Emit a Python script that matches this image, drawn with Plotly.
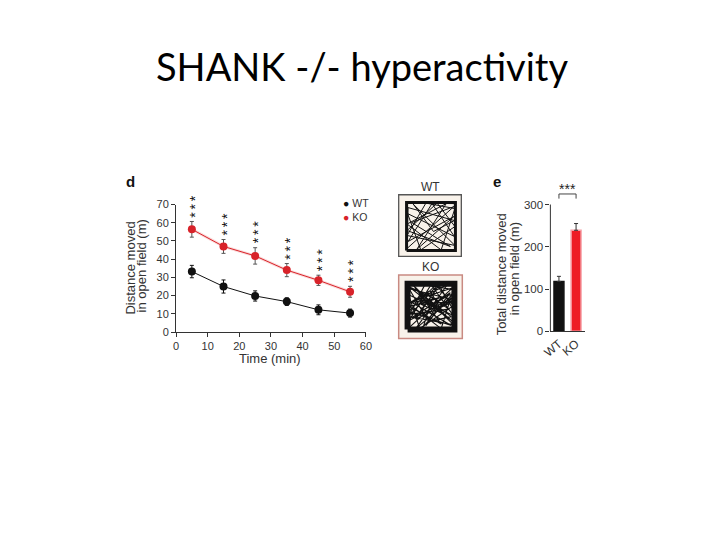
import plotly.graph_objects as go

# ---------------- data ----------------
time_min = [5, 15, 25, 35, 45, 55]
wt_mean = [33.2, 25.0, 19.8, 16.7, 12.2, 10.4]
wt_sem = [3.4, 3.6, 2.8, 2.1, 2.7, 2.2]
ko_mean = [56.4, 47.0, 41.8, 34.0, 28.4, 22.1]
ko_sem = [4.3, 3.8, 4.5, 3.6, 2.8, 3.0]
sig_marks = ["***", "***", "***", "***", "***", "***"]

groups = ["WT", "KO"]
total_mean = [118, 239]
total_sem = [12, 16]
total_sig = "***"

# hand-drawn representative tracks (unit square)
wt_track_x = [0.03, 0.97, 0.96, 0.04, 0.03, 0.95, 0.12, 0.88, 0.03, 0.62, 0.97, 0.30, 0.04,
              0.96, 0.52, 0.05, 0.95, 0.22, 0.80, 0.03, 0.70, 0.97, 0.40, 0.03, 0.97, 0.15,
              0.55, 0.96, 0.05]
wt_track_y = [0.04, 0.03, 0.96, 0.97, 0.06, 0.90, 0.58, 0.10, 0.42, 0.97, 0.50, 0.03, 0.76,
              0.30, 0.96, 0.20, 0.70, 0.04, 0.96, 0.55, 0.03, 0.86, 0.97, 0.32, 0.12, 0.95,
              0.40, 0.62, 0.88]
ko_track_x = [0.05, 0.95, 0.94, 0.06, 0.07, 0.93, 0.10, 0.90, 0.06, 0.60, 0.94, 0.28, 0.06,
              0.94, 0.50, 0.07, 0.93, 0.20, 0.82, 0.06, 0.70, 0.94, 0.38, 0.06, 0.94, 0.15,
              0.55, 0.94, 0.07, 0.45, 0.90, 0.25, 0.70, 0.08, 0.92, 0.35, 0.60, 0.10, 0.85,
              0.50, 0.20, 0.93, 0.30, 0.75, 0.07, 0.65, 0.40, 0.88, 0.12, 0.58, 0.33, 0.93,
              0.18, 0.72, 0.48, 0.08, 0.80, 0.27, 0.66, 0.93]
ko_track_y = [0.06, 0.05, 0.94, 0.95, 0.08, 0.88, 0.60, 0.12, 0.40, 0.94, 0.52, 0.06, 0.74,
              0.32, 0.94, 0.22, 0.68, 0.06, 0.94, 0.56, 0.06, 0.84, 0.94, 0.30, 0.14, 0.93,
              0.42, 0.64, 0.86, 0.20, 0.30, 0.80, 0.15, 0.50, 0.75, 0.10, 0.90, 0.35, 0.45,
              0.70, 0.25, 0.60, 0.55, 0.35, 0.90, 0.62, 0.12, 0.78, 0.28, 0.48, 0.66, 0.20,
              0.86, 0.40, 0.82, 0.58, 0.70, 0.38, 0.93, 0.45]

WT_COLOR = "#111111"
KO_COLOR = "#d8232a"
BAR_KO = "#ee1c25"
FONT = "Liberation Sans, Arial, sans-serif"
TXT = "#333333"

# page offset of the plot div (browser body margin) and figure size
OFF = 8
FW, FH = 704, 524


def px(x):
    return (x - OFF) / FW


def py(y):
    return 1 - (y - OFF) / FH


fig = go.Figure()

# ---------------- panel d: time course ----------------
fig.add_trace(go.Scatter(
    x=time_min, y=ko_mean, mode="lines", xaxis="x", yaxis="y",
    line=dict(color="rgba(240,150,150,0.35)", width=3), hoverinfo="skip", showlegend=False))
fig.add_trace(go.Scatter(
    x=time_min, y=wt_mean, mode="lines+markers", name="WT", xaxis="x", yaxis="y",
    line=dict(color=WT_COLOR, width=1), marker=dict(color=WT_COLOR, size=8),
    error_y=dict(type="data", array=wt_sem, color=WT_COLOR, thickness=1, width=2),
    showlegend=False))
fig.add_trace(go.Scatter(
    x=time_min, y=ko_mean, mode="lines+markers", name="KO", xaxis="x", yaxis="y",
    line=dict(color=KO_COLOR, width=1), marker=dict(color=KO_COLOR, size=8),
    error_y=dict(type="data", array=ko_sem, color="#555555", thickness=1, width=2),
    showlegend=False))

annotations = []
# significance stars stacked vertically above each KO point
for t, m, s, mark in zip(time_min, ko_mean, ko_sem, sig_marks):
    annotations.append(dict(
        x=t, y=m + s, xref="x", yref="y", text="\u2009".join(mark), showarrow=False,
        textangle=-90, yanchor="bottom", xanchor="center", yshift=2, xshift=3,
        font=dict(family=FONT, size=14, color="#111111")))

# legend built as text (one block, two lines)
annotations.append(dict(x=px(339), y=py(208.5), xref="paper", yref="paper",
                        xanchor="left", yanchor="middle", showarrow=False, align="left",
                        text="<span style='color:#111111'>●</span> WT<br>"
                             "<span style='color:#d8232a'>●</span> KO",
                        font=dict(family=FONT, size=10.5, color=TXT)))

# ---------------- panel e: totals ----------------
fig.add_trace(go.Bar(
    x=list(range(len(groups))), y=total_mean, xaxis="x2", yaxis="y2",
    marker=dict(color=[WT_COLOR, BAR_KO], line=dict(color=["#111111", "#f6a0a6"], width=1.5)),
    width=0.58,
    error_y=dict(type="data", array=total_sem, arrayminus=[0, 0], color="#333333",
                 thickness=1, width=2),
    showlegend=False))

# significance bracket
fig.add_trace(go.Scatter(
    x=[0, 0, 1, 1], y=[314, 325, 325, 314], mode="lines", xaxis="x2", yaxis="y2",
    line=dict(color="#444444", width=1), hoverinfo="skip", showlegend=False, cliponaxis=False))
annotations.append(dict(x=0.5, y=325, xref="x2", yref="y2", text=total_sig, showarrow=False,
                        yanchor="bottom", yshift=-5,
                        font=dict(family=FONT, size=14, color="#222222")))

# ---------------- tracks ----------------
fig.add_trace(go.Scatter(x=wt_track_x + [wt_track_x[0]], y=wt_track_y + [wt_track_y[0]],
                         mode="lines", xaxis="x3", yaxis="y3",
                         line=dict(color="#111111", width=1), hoverinfo="skip", showlegend=False))
fig.add_trace(go.Scatter(x=[0.02, 0.98, 0.98, 0.02, 0.02], y=[0.02, 0.02, 0.98, 0.98, 0.02],
                         mode="lines", xaxis="x3", yaxis="y3",
                         line=dict(color="#111111", width=3), hoverinfo="skip", showlegend=False))
fig.add_trace(go.Scatter(x=ko_track_x, y=ko_track_y,
                         mode="lines", xaxis="x4", yaxis="y4",
                         line=dict(color="#111111", width=1.1), hoverinfo="skip", showlegend=False))
fig.add_trace(go.Scatter(x=[0.04, 0.96, 0.96, 0.04, 0.04], y=[0.04, 0.04, 0.96, 0.96, 0.04],
                         mode="lines", xaxis="x4", yaxis="y4",
                         line=dict(color="#111111", width=6), hoverinfo="skip", showlegend=False))


def xdom(a, b):
    return [px(a), px(b)]


def ydom(top, bottom):
    return [py(bottom), py(top)]


axis_common = dict(showgrid=False, zeroline=False, showline=True, linecolor="#333333",
                   linewidth=1, ticks="outside", ticklen=4, tickcolor="#333333",
                   tickfont=dict(family=FONT, size=11, color=TXT))
hidden = dict(visible=False, showgrid=False, zeroline=False)

shapes = [
    dict(type="line", xref="x2 domain", yref="y2", x0=0, x1=0, y0=0, y1=300,
         line=dict(color="#333333", width=1)),
    dict(type="rect", xref="x3 domain", yref="y3 domain", x0=0, x1=1, y0=0, y1=1,
         line=dict(color="#555555", width=1.3), fillcolor="#f8f2ea", layer="below"),
    dict(type="rect", xref="x4 domain", yref="y4 domain", x0=0, x1=1, y0=0, y1=1,
         line=dict(color="#c98a82", width=1.5), fillcolor="#f8f2ea", layer="below"),
]


def label(x, y, text, size=13, angle=0, bold=False, family=FONT, color=TXT, xanchor="center"):
    return dict(x=px(x), y=py(y), xref="paper", yref="paper",
                text=("<b>%s</b>" % text) if bold else text, textangle=angle,
                showarrow=False, xanchor=xanchor, yanchor="middle",
                font=dict(family=family, size=size, color=color))


annotations += [
    label(360, 61, "SHANK -/- hyperactivity", size=38,
          family="Lato, Carlito, sans-serif", color="#000000"),
    label(117, 179, "d", size=15, bold=True, xanchor="left", color="#111111"),
    label(492, 179, "e", size=15, bold=True, xanchor="left", color="#111111"),
    label(123, 268, "Distance moved", angle=-90),
    label(135, 266, "in open field (m)", angle=-90),
    label(267, 360.5, "Time (min)"),
    label(503, 274, "Total distance moved", angle=-90),
    label(516, 269, "in open field (m)", angle=-90),
    label(430, 185, "WT", size=12),
    label(430, 267, "KO", size=12),
]

fig.update_layout(
    width=FW, height=FH,
    margin=dict(l=0, r=0, t=0, b=0),
    paper_bgcolor="white", plot_bgcolor="white",
    showlegend=False,
    xaxis=dict(domain=xdom(170.5, 364.5), range=[0, 60], dtick=10, anchor="y", **axis_common),
    yaxis=dict(domain=ydom(203, 333.5), range=[0, 70], dtick=10, anchor="x", **axis_common),
    xaxis2=dict(domain=xdom(553, 588), range=[-0.5, 1.5], anchor="y2",
                tickvals=list(range(len(groups))), ticktext=groups, tickangle=-40,
                showgrid=False, zeroline=False, showline=True, linecolor="#333333",
                linewidth=1, ticks="", tickfont=dict(family=FONT, size=12, color=TXT)),
    yaxis2=dict(domain=ydom(185.7, 332.7), range=[0, 340], tickvals=[0, 100, 200, 300],
                anchor="x2", showgrid=False, zeroline=False, showline=False,
                ticks="outside", ticklen=4, tickcolor="#333333",
                tickfont=dict(family=FONT, size=11.5, color=TXT)),
    xaxis3=dict(domain=xdom(398, 462), range=[-7 / 52, 1 + 5 / 52], anchor="y3", **hidden),
    yaxis3=dict(domain=ydom(193, 256), range=[-5 / 51, 1 + 7 / 51], anchor="x3", **hidden),
    xaxis4=dict(domain=xdom(398, 463), range=[-7 / 52, 1 + 6 / 52], anchor="y4", **hidden),
    yaxis4=dict(domain=ydom(275, 340), range=[-7 / 51, 1 + 7 / 51], anchor="x4", **hidden),
    shapes=shapes,
    annotations=annotations,
)

fig.write_html("out.html")
